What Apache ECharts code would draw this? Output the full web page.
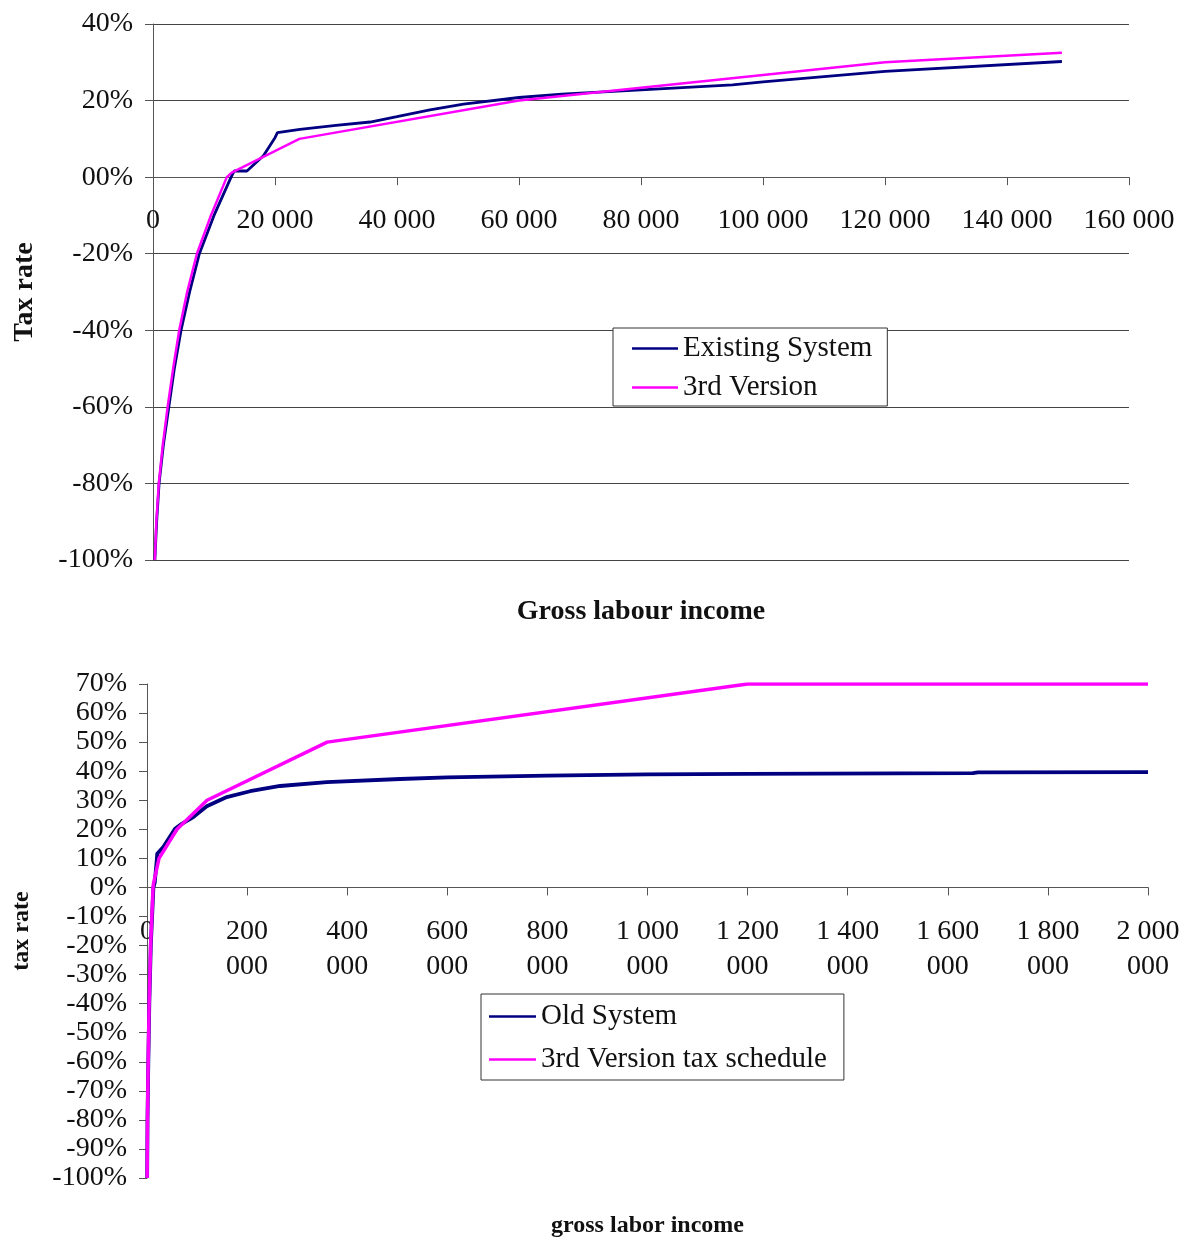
<!DOCTYPE html>
<html>
<head>
<meta charset="utf-8">
<script src="https://cdn.jsdelivr.net/npm/echarts@6/dist/echarts.min.js"></script>
<style>
  html, body { margin: 0; padding: 0; background: #fff; }
  #chart { width: 1183px; height: 1240px; }
</style>
</head>
<body>
<div id="chart"></div>
<script>
// Average tax rate (%) against gross labour income, [income, rate]
const existingSystem = [
  [300, -100], [600, -90], [1000, -80], [1700, -70], [2600, -60], [3500, -50],
  [4600, -40], [6000, -30], [7600, -20], [10000, -10], [12800, 0], [13300, 1.6],
  [15400, 1.6], [18100, 5.6], [20000, 10.3], [20400, 11.6], [24100, 12.5],
  [30000, 13.5], [35600, 14.4], [40000, 15.8], [45400, 17.6], [50900, 19.1],
  [60000, 20.8], [67000, 21.7], [80000, 22.8], [95000, 24.1], [100000, 24.9],
  [120000, 27.6], [149000, 30.2]
];
const thirdVersion = [
  [300, -100], [550, -90], [950, -80], [1600, -70], [2400, -60], [3300, -50],
  [4300, -40], [5600, -30], [7200, -20], [9500, -10], [12100, 0], [12900, 1.2],
  [24000, 10], [60000, 20], [120000, 30], [149000, 32.5]
];

// Wider income range
const oldSystem = [
  [300, -100], [1000, -80], [2600, -60], [4600, -40], [7600, -20], [12800, 0],
  [15400, 1.6], [20000, 10.3], [20400, 11.6], [32600, 13.9], [56000, 20.2],
  [69400, 21.9], [92600, 24.2], [119400, 27.9], [159400, 31.1], [206000, 33.1],
  [266000, 34.9], [359000, 36.2], [506000, 37.3], [600000, 37.9], [800000, 38.5],
  [1000000, 38.9], [1200000, 39.1], [1650000, 39.3], [1660000, 39.6], [2000000, 39.7]
];
const thirdVersionSchedule = [
  [300, -100], [950, -80], [2400, -60], [4300, -40], [7200, -20], [12100, 0],
  [12900, 1.2], [24000, 10], [60000, 20], [120000, 30], [360000, 50],
  [1200000, 70], [2000000, 70]
];

const NAVY = '#000080';
const MAGENTA = '#FF00FF';
const FONT = "'Liberation Serif', 'Times New Roman', serif";
const AXIS_COLOR = '#555';

function topIncomeLabel(v) {
  return v === 0 ? '0' : (v / 1000) + ' 000';
}
function bottomIncomeLabel(v) {
  if (v === 0) return '0';
  const millions = Math.floor(v / 1e6);
  const thousands = Math.round((v % 1e6) / 1000);
  const head = millions > 0 ? millions + ' ' + String(thousands).padStart(3, '0') : String(thousands);
  return head + '\n000';
}

const chart = echarts.init(document.getElementById('chart'), null, { renderer: 'canvas' });

chart.setOption({
  animation: false,
  backgroundColor: '#fff',
  textStyle: { fontFamily: FONT, color: '#000' },
  grid: [
    { left: 153, right: 54, top: 24, bottom: 680, containLabel: false, outerBoundsMode: 'none' },
    { left: 147, right: 35, top: 684, bottom: 62, containLabel: false, outerBoundsMode: 'none' }
  ],
  legend: [
    {
      data: ['Existing System', '3rd Version'],
      orient: 'vertical',
      left: 613, top: 328,
      padding: [6, 15, 4, 19],
      itemGap: 10,
      itemWidth: 46, itemHeight: 2.5,
      icon: 'rect',
      backgroundColor: '#fff',
      borderColor: '#333', borderWidth: 1, borderRadius: 0,
      textStyle: { fontFamily: FONT, fontSize: 29, color: '#111' }
    },
    {
      data: ['Old System', '3rd Version tax schedule'],
      orient: 'vertical',
      left: 481, top: 994,
      padding: [8, 17, 6, 8],
      itemGap: 14,
      itemWidth: 47, itemHeight: 2.5,
      icon: 'rect',
      backgroundColor: '#fff',
      borderColor: '#333', borderWidth: 1, borderRadius: 0,
      textStyle: { fontFamily: FONT, fontSize: 29, color: '#111' }
    }
  ],
  xAxis: [
    {
      // axis line sits on 0%; labels and title are offset from the plot bottom
      gridIndex: 0, type: 'value', min: 0, max: 160000, interval: 20000,
      axisLine: { onZero: true, lineStyle: { color: AXIS_COLOR, width: 1 } },
      axisTick: { show: true, length: 8, lineStyle: { color: AXIS_COLOR } },
      axisLabel: { formatter: topIncomeLabel, fontSize: 28, fontFamily: FONT, color: '#111', margin: -353 },
      splitLine: { show: false },
      name: 'Gross labour income', nameLocation: 'middle', nameGap: 38,
      nameTextStyle: { fontFamily: FONT, fontSize: 28, fontWeight: 'bold', color: '#111' }
    },
    {
      gridIndex: 1, type: 'value', min: 0, max: 2000000, interval: 200000,
      axisLine: { onZero: true, lineStyle: { color: AXIS_COLOR, width: 1 } },
      axisTick: { show: true, length: 8, lineStyle: { color: AXIS_COLOR } },
      axisLabel: { formatter: bottomIncomeLabel, fontSize: 28, lineHeight: 35, fontFamily: FONT, color: '#111', margin: -264 },
      splitLine: { show: false },
      name: 'gross labor income', nameLocation: 'middle', nameGap: 36,
      nameTextStyle: { fontFamily: FONT, fontSize: 24, fontWeight: 'bold', color: '#111' }
    }
  ],
  yAxis: [
    {
      gridIndex: 0, type: 'value', min: -100, max: 40, interval: 20,
      axisLine: { show: true, lineStyle: { color: AXIS_COLOR, width: 1 } },
      axisTick: { show: true, length: 8, lineStyle: { color: AXIS_COLOR } },
      axisLabel: {
        formatter: v => (v === 0 ? '00%' : v + '%'),
        fontSize: 28, fontFamily: FONT, color: '#111', margin: 20
      },
      splitLine: { show: true, lineStyle: { color: '#444', width: 1 } },
      name: 'Tax rate', nameLocation: 'middle', nameGap: 114, nameRotate: 90,
      nameTextStyle: { fontFamily: FONT, fontSize: 28, fontWeight: 'bold', color: '#111' }
    },
    {
      gridIndex: 1, type: 'value', min: -100, max: 70, interval: 10,
      axisLine: { show: true, lineStyle: { color: AXIS_COLOR, width: 1 } },
      axisTick: { show: true, length: 8, lineStyle: { color: AXIS_COLOR } },
      axisLabel: { formatter: v => v + '%', fontSize: 28, fontFamily: FONT, color: '#111', margin: 20 },
      splitLine: { show: false },
      name: 'tax rate', nameLocation: 'middle', nameGap: 113, nameRotate: 90,
      nameTextStyle: { fontFamily: FONT, fontSize: 24, fontWeight: 'bold', color: '#111' }
    }
  ],
  series: [
    {
      name: 'Existing System', type: 'line', xAxisIndex: 0, yAxisIndex: 0,
      data: existingSystem, showSymbol: false, symbol: 'none',
      lineStyle: { color: NAVY, width: 2.8 }, itemStyle: { color: NAVY }, z: 2
    },
    {
      name: '3rd Version', type: 'line', xAxisIndex: 0, yAxisIndex: 0,
      data: thirdVersion, showSymbol: false, symbol: 'none',
      lineStyle: { color: MAGENTA, width: 2.5 }, itemStyle: { color: MAGENTA }, z: 3
    },
    {
      name: 'Old System', type: 'line', xAxisIndex: 1, yAxisIndex: 1,
      data: oldSystem, showSymbol: false, symbol: 'none',
      lineStyle: { color: NAVY, width: 3.8 }, itemStyle: { color: NAVY }, z: 2
    },
    {
      name: '3rd Version tax schedule', type: 'line', xAxisIndex: 1, yAxisIndex: 1,
      data: thirdVersionSchedule, showSymbol: false, symbol: 'none',
      lineStyle: { color: MAGENTA, width: 3.5 }, itemStyle: { color: MAGENTA }, z: 3
    }
  ]
});
</script>
</body>
</html>
